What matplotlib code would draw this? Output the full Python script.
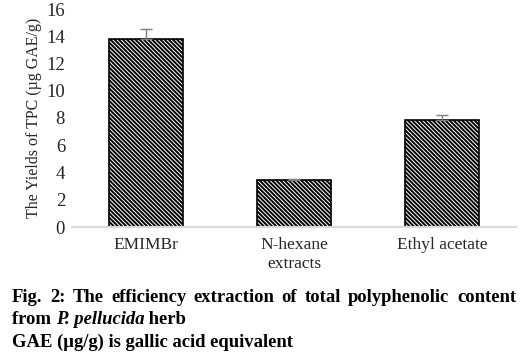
import matplotlib.pyplot as plt
import numpy as np

# ============= Data =============
categories = ['EMIMBr', 'N-hexane\nextracts', 'Ethyl acetate']
yields = [13.8, 3.45, 7.85]
errors = [0.7, 0.1, 0.4]
yticks = [0, 2, 4, 6, 8, 10, 12, 14, 16]

plt.rcParams['font.family'] = ['Liberation Serif', 'DejaVu Serif']
plt.rcParams['hatch.linewidth'] = 1.4

fig = plt.figure(figsize=(5.3, 3.55), dpi=100)
ax = fig.add_axes([72/530, 1 - 227/355, 444/530, 218/355])

x = np.arange(len(categories))
ax.bar(x, yields, width=0.5, color='white', edgecolor='black', hatch='\\' * 8,
       linewidth=1.2, zorder=2)
ax.errorbar(x, yields, yerr=[np.zeros(len(errors)), errors], fmt='none',
            ecolor='#7f7f7f', elinewidth=1, capsize=4, capthick=1, zorder=3)

ax.set_xlim(-0.5, 2.5)
ax.set_ylim(0, 16)
ax.set_yticks(yticks)
ax.set_xticks(x)
ax.set_xticklabels(categories, fontsize=12.5, color='#262626', linespacing=1.3)
ax.tick_params(axis='y', length=0, labelsize=13.5, labelcolor='#262626', pad=5)
ax.tick_params(axis='x', length=0, pad=7)
for s in ['top', 'right', 'left']:
    ax.spines[s].set_visible(False)
ax.spines['bottom'].set_color('#d9d9d9')
ax.spines['bottom'].set_linewidth(1.5)
ax.set_ylabel('The Yields of TPC (µg GAE/g)', fontsize=11.5, color='#262626', labelpad=3)

# caption
fs = 13.4
words = 'Fig. 2: The efficiency extraction of total polyphenolic content'.split()
fig.canvas.draw()
r = fig.canvas.get_renderer()
ws = []
for w in words:
    t = fig.text(0, 0, w, fontsize=fs, fontweight='bold')
    ws.append(t.get_window_extent(r).width)
    t.remove()
x0, x1 = 12, 516
gap = (x1 - x0 - sum(ws)) / (len(words) - 1)
pos = x0
for w, wd in zip(words, ws):
    fig.text(pos / 530, 1 - 298/355, w, fontsize=fs, fontweight='bold', va='center')
    pos += wd + gap

parts = [('from ', 'normal'), ('P. pellucida', 'italic'), (' herb', 'normal')]
pos = x0
for txt, st in parts:
    t = fig.text(pos / 530, 1 - 320/355, txt, fontsize=fs, fontweight='bold',
                 fontstyle=st, va='center')
    pos += t.get_window_extent(r).width
fig.text(x0 / 530, 1 - 342/355, 'GAE (µg/g) is gallic acid equivalent', fontsize=fs,
         fontweight='bold', va='center')

fig.savefig('out.png', dpi=100)
